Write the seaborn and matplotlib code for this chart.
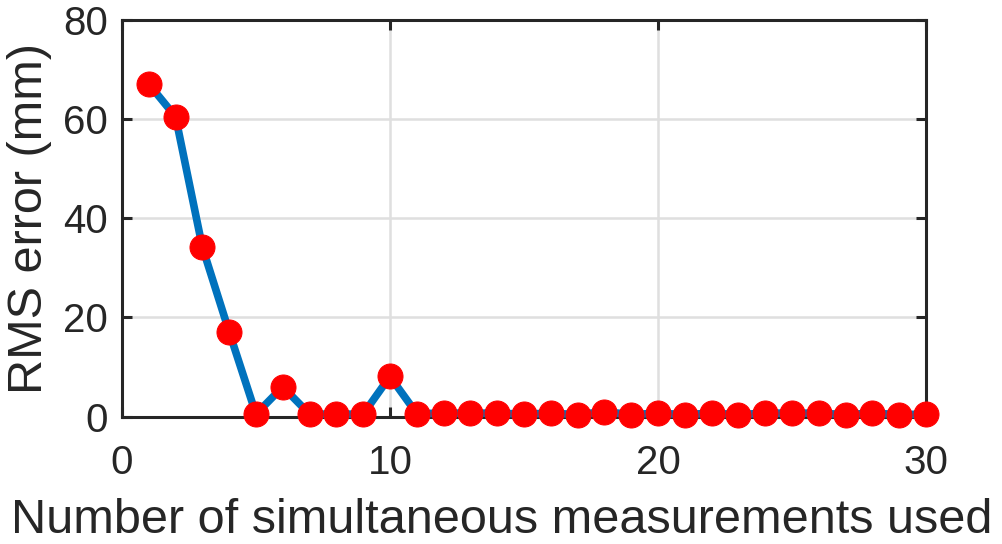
import matplotlib
matplotlib.use("Agg")
import matplotlib.pyplot as plt
import seaborn as sns
import pandas as pd

# RMS error against number of simultaneous measurements
n_measurements = list(range(1, 31))
rms_error_mm = [67.1, 60.5, 34.2, 17.1, 0.5, 6.0, 0.5, 0.5, 0.5, 8.1,
                0.6, 0.7, 0.7, 0.7, 0.5, 0.7, 0.4, 1.0, 0.4, 0.7,
                0.4, 0.7, 0.4, 0.7, 0.7, 0.7, 0.4, 0.7, 0.4, 0.5]
x_ticks = [0, 10, 20, 30]
y_ticks = [0, 20, 40, 60, 80]

df = pd.DataFrame({"n": n_measurements, "rms": rms_error_mm})

sns.set_theme(style="white")
plt.rcParams["font.family"] = ["Liberation Sans", "DejaVu Sans"]

fig = plt.figure(figsize=(10.03, 5.44), dpi=100)
ax = fig.add_axes([0.1216, 0.2342, 0.8016, 0.729])

sns.lineplot(data=df, x="n", y="rms", ax=ax, color="#0072BD", linewidth=5.5,
             marker="o", markersize=18, markerfacecolor="#FF0000",
             markeredgecolor="#FF0000", clip_on=False, zorder=3)

ax.set_xlim(0, 30)
ax.set_ylim(0, 80)
ax.set_xticks(x_ticks)
ax.set_yticks(y_ticks)
ax.grid(True, color="#DFDFDF", linewidth=1.8)
ax.set_axisbelow(True)

for s in ax.spines.values():
    s.set_color("#262626")
    s.set_linewidth(2.2)
    s.set_visible(True)
ax.tick_params(direction="in", length=7, width=2.2, colors="#262626",
               labelsize=29, top=True, right=True, bottom=True, left=True,
               labeltop=False, labelright=False)
ax.tick_params(axis="x", pad=20)
ax.tick_params(axis="y", pad=10)
ax.set_xlabel("Number of simultaneous measurements used", fontsize=35,
              color="#262626")
ax.xaxis.set_label_coords(0.4726, -0.262)
ax.xaxis.label.set_va("center")
ax.set_ylabel("RMS error (mm)", fontsize=35, color="#262626", labelpad=8)

fig.savefig("out.png", dpi=100)
